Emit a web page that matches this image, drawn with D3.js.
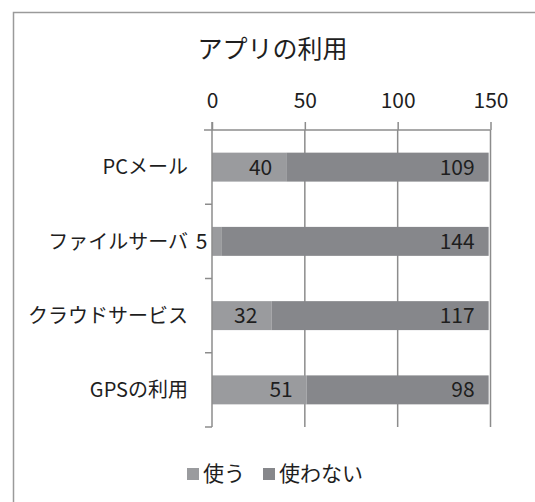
<!DOCTYPE html>
<html><head><meta charset="utf-8">
<script src="https://cdn.jsdelivr.net/npm/d3@7"></script>
<style>
html,body{margin:0;padding:0;background:#fff;}
text{font-family:"Noto Sans CJK JP","Noto Sans",sans-serif;fill:#1e1e1e;}
</style></head>
<body><svg id="c" width="535" height="502"></svg>
<script>
const categories = ["PCメール","ファイルサーバ","クラウドサービス","GPSの利用"];
const seriesNames = ["使う","使わない"];
const useValues = [40,5,32,51];
const notUseValues = [109,144,117,98];
const xTicks = [0,50,100,150];
const colors = ["#9a9b9e","#86878b"];
const title = "アプリの利用";

const svg = d3.select("#c");
// frame
svg.append("rect").attr("x",13.5).attr("y",12.5).attr("width",560).attr("height",520)
  .attr("fill","none").attr("stroke","#9a9a9a").attr("stroke-width",1.5);

svg.append("text").attr("x",272.5).attr("y",58).attr("text-anchor","middle")
  .attr("font-size",25).text(title);

const x = d3.scaleLinear().domain([0,150]).range([212,490.5]);
const y = d3.scaleBand().domain(categories).range([130,427]).paddingInner(0.61).paddingOuter(0.305);

const gridColor = "#8c8c8c";
// gridlines
svg.append("g").selectAll("line").data(xTicks.slice(1)).join("line")
  .attr("x1",d=>x(d)).attr("x2",d=>x(d)).attr("y1",130).attr("y2",427)
  .attr("stroke",gridColor).attr("stroke-width",1.5);

// top axis
const xAxis = svg.append("g").attr("transform","translate(0,130)")
  .call(d3.axisTop(x).tickValues(xTicks).tickSize(8).tickPadding(14).tickSizeOuter(0));
xAxis.select(".domain").remove();
xAxis.selectAll(".tick line").attr("stroke",gridColor).attr("stroke-width",1.5);
xAxis.selectAll(".tick text").attr("font-size",21).attr("fill","#1e1e1e")
  .style("font-family","'Noto Sans CJK JP',sans-serif");
svg.append("line").attr("x1",204).attr("x2",x(150)).attr("y1",130).attr("y2",130)
  .attr("stroke",gridColor).attr("stroke-width",1.5);

// stacked bars
const stackData = categories.map((c,i)=>({cat:c,[seriesNames[0]]:useValues[i],[seriesNames[1]]:notUseValues[i]}));
const stacked = d3.stack().keys(seriesNames)(stackData);
const g = svg.append("g");
stacked.forEach((s,si)=>{
  g.append("g").selectAll("rect").data(s).join("rect")
    .attr("x",d=>x(d[0])).attr("width",d=>x(d[1])-x(d[0]))
    .attr("y",d=>y(d.data.cat)).attr("height",y.bandwidth())
    .attr("fill",colors[si]);
  g.append("g").selectAll("text").data(s).join("text")
    .attr("x",d=>x(d[1])-14).attr("y",d=>y(d.data.cat)+y.bandwidth()/2)
    .attr("dy","0.36em").attr("text-anchor","end").attr("font-size",21)
    .text(d=>d[1]-d[0]);
});

// left axis
const step = y.step();
const bounds = [130,130+step,130+2*step,130+3*step,427];
svg.append("line").attr("x1",212).attr("x2",212).attr("y1",122).attr("y2",427)
  .attr("stroke",gridColor).attr("stroke-width",1.5);
svg.append("g").selectAll("line").data(bounds.slice(1)).join("line")
  .attr("x1",205).attr("x2",212).attr("y1",d=>d).attr("y2",d=>d)
  .attr("stroke",gridColor).attr("stroke-width",1.5);
svg.append("g").selectAll("text").data(categories).join("text")
  .attr("x",188).attr("y",d=>y(d)+y.bandwidth()/2).attr("dy","0.36em")
  .attr("text-anchor","end").attr("font-size",20).text(d=>d);

// legend
const lg = svg.append("g");
const legX = [187,263];
seriesNames.forEach((n,i)=>{
  lg.append("rect").attr("x",legX[i]).attr("y",468).attr("width",12).attr("height",12).attr("fill",colors[i]);
  lg.append("text").attr("x",legX[i]+16).attr("y",473).attr("dy","0.36em").attr("font-size",21).text(n);
});
</script></body></html>
